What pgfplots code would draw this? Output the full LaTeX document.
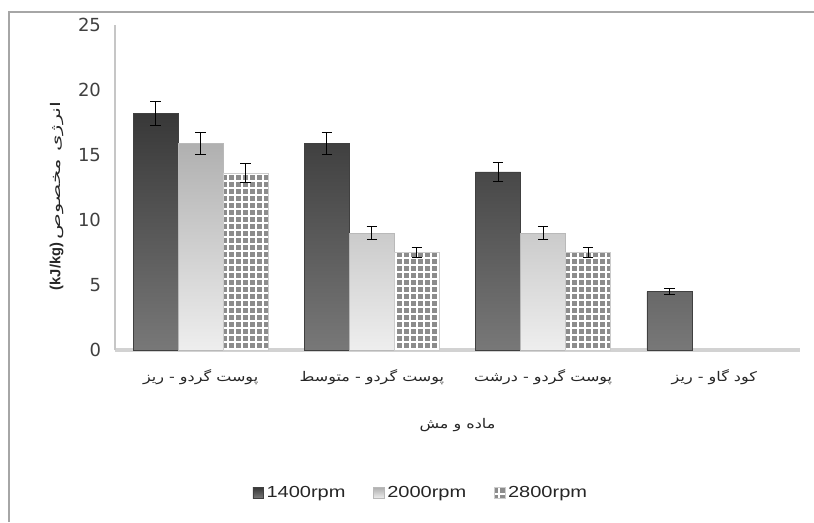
\documentclass[border=0pt]{standalone}
\usepackage{pgfplots}
\pgfplotsset{compat=1.18}
\usepackage{fontspec}
\setmainfont{Liberation Sans}
\newfontfamily\arabicfont[Script=Arabic, FakeStretch=1.2]{DejaVu Sans}
\newfontfamily\arabicwide[Script=Arabic, FakeStretch=1.6]{DejaVu Sans}
\newfontfamily\tickfont{DejaVu Sans}
\newfontfamily\legfont[FakeStretch=1.25]{Liberation Sans}
\TeXXeTstate=1
\usetikzlibrary{patterns.meta}
\definecolor{darkbarTop}{HTML}{383838}
\definecolor{darkbarBot}{HTML}{787878}
\definecolor{lightbarTop}{HTML}{B0B0B0}
\definecolor{lightbarBot}{HTML}{EEEEEE}
\definecolor{ticklab}{HTML}{404040}
\tikzdeclarepattern{
  name=gridsq,
  type=uncolored,
  bottom left={(0pt,0pt)},
  top right={(5.2pt,5.2pt)},
  tile size={(5.2pt,5.2pt)},
  code={\fill (0.8pt,0.8pt) rectangle (4.4pt,4.4pt);}
}
\pgfplotsset{myerr/.style={error bars/.cd, y dir=both, y explicit,
    error bar style={black, line width=0.7pt},
    error mark options={black, line width=0.7pt, mark size=4pt, rotate=90}}}
\begin{document}
\begin{tikzpicture}
\useasboundingbox (0,0) rectangle (610.5pt,391.5pt);
\draw[gray!70, line width=1.3pt] (6.5pt,0) -- (6.5pt,382.5pt) -- (610.5pt,382.5pt);
\begin{axis}[
  at={(86.25pt,129pt)}, anchor=south west,
  scale only axis, width=513.75pt, height=243.75pt,
  ybar=0pt, bar width=33.75pt,
  xmin=-0.5, xmax=3.5, ymin=0, ymax=25,
  xtick=data,
  xticklabels={
    {\arabicfont\beginR پوست گردو - ریز\endR},
    {\arabicfont\beginR پوست گردو - متوسط\endR},
    {\arabicfont\beginR پوست گردو - درشت\endR},
    {\arabicfont\beginR کود گاو - ریز\endR}},
  ytick={0,5,10,15,20,25},
  major tick length=0pt,
  axis x line*=bottom, axis y line*=left,
  x axis line style={-, line width=3pt, gray!35},
  y axis line style={-, line width=1pt, gray!45},
  /pgf/number format/assume math mode=true,
  yticklabel style={font=\tickfont\fontsize{13.5}{15}\selectfont, text=ticklab, xshift=-7pt},
  xticklabel style={font=\fontsize{10}{12}\selectfont, text=black!85, yshift=-11pt},
  xlabel={\arabicfont\beginR ماده و مش\endR},
  xlabel style={font=\fontsize{10}{12}\selectfont, text=black!85, at={(rel axis cs:0.5,0)}, anchor=center, yshift=-56pt},
  ylabel={{\bfseries\fontsize{11}{13}\selectfont (kJ/kg)}\ {\arabicwide\fontsize{10}{12}\selectfont\beginR انرژی مخصوص\endR}},
  ylabel style={at={(rel axis cs:-0.085,0.475)}, anchor=center, text=black!85},
  legend style={at={(0.447,-0.44)}, anchor=center, draw=none, legend columns=3,
    font=\legfont\fontsize{12}{14}\selectfont, text=black!85,
    /tikz/every even column/.append style={column sep=19pt}},
  legend image code/.code={\draw[#1] (0pt,-4pt) rectangle (8pt,4pt);},
]
\addplot[draw=black!75, top color=darkbarTop, bottom color=darkbarBot, myerr]
  coordinates {(0,18.2) +- (0,0.9) (1,15.9) +- (0,0.85) (2,13.7) +- (0,0.7) (3,4.5) +- (0,0.25)};
\addplot[draw=gray!55, top color=lightbarTop, bottom color=lightbarBot, myerr]
  coordinates {(0,15.9) +- (0,0.85) (1,9.0) +- (0,0.5) (2,9.0) +- (0,0.5)};
\addplot[draw=gray!40, fill=white, postaction={pattern=gridsq, pattern color=gray!90}, myerr]
  coordinates {(0,13.6) +- (0,0.75) (1,7.5) +- (0,0.4) (2,7.5) +- (0,0.4)};
\legend{1400rpm, 2000rpm, 2800rpm}
\end{axis}
\end{tikzpicture}
\end{document}
